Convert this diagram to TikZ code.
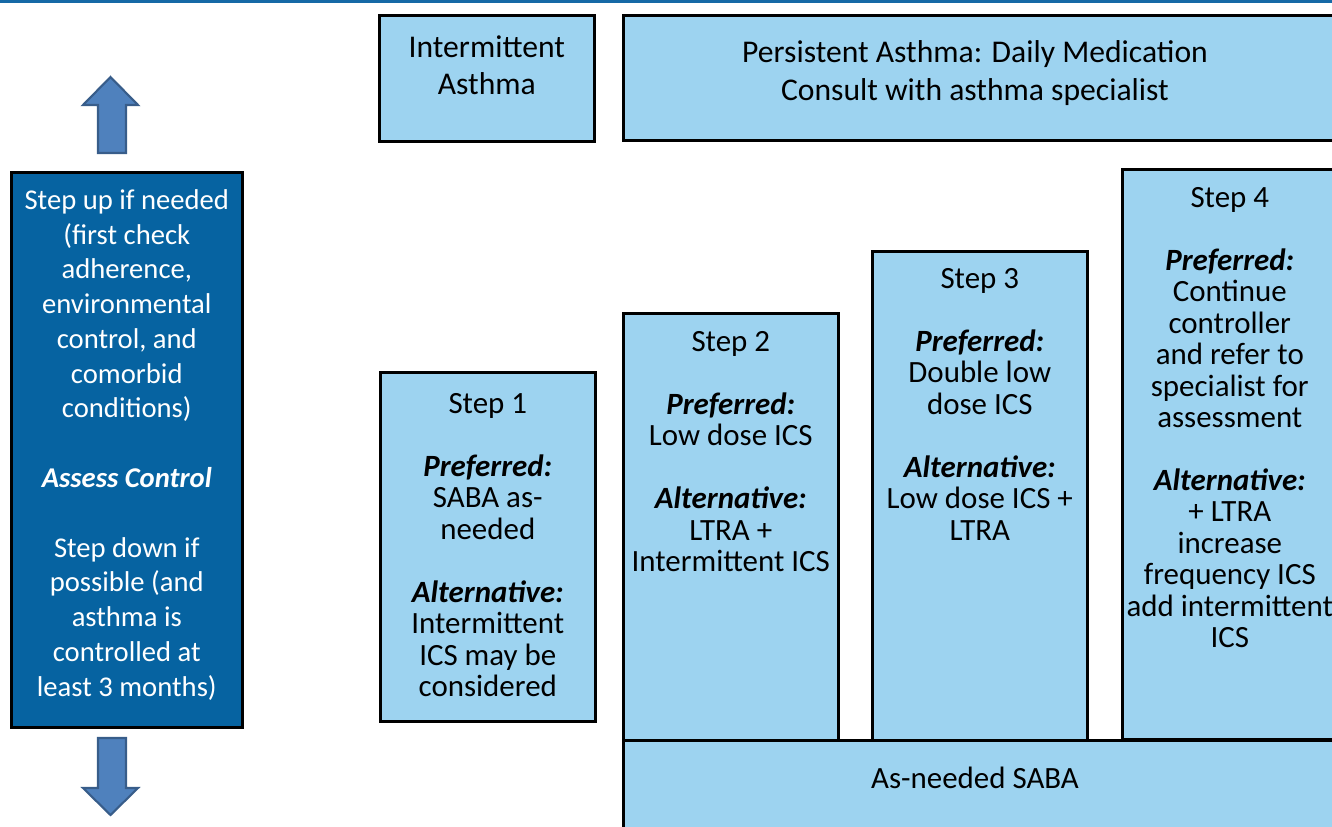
\documentclass[tikz,border=0pt]{standalone}
\usepackage{fontspec}
\setmainfont{Carlito}
\usetikzlibrary{positioning}

\definecolor{azulclaro}{RGB}{157,211,240}
\definecolor{azulescuro}{RGB}{6,99,161}
\definecolor{azulseta}{RGB}{79,129,189}
\definecolor{bordaseta}{RGB}{56,93,138}
\definecolor{azullinha}{RGB}{22,105,166}

\begin{document}
\begin{tikzpicture}[x=0.02cm, y=-0.02cm,
    caixa/.style={draw=black, line width=1.5pt, fill=azulclaro, anchor=north west,
                  inner sep=0pt, minimum width=4.3cm},
    texto/.style={anchor=north, align=center, inner sep=0pt,
                  font=\fontsize{17.6}{17.9}\selectfont},
    titulo/.style={anchor=north, align=center, inner sep=0pt,
                   font=\fontsize{18}{21.2}\selectfont},
    seta/.style={fill=azulseta, draw=bordaseta, line width=1.2pt}]

    \clip (0,0) rectangle (1332,827);

    % Linha superior
    \fill[azullinha] (0,0) rectangle (1332,3.5);

    % Caixas superiores
    \node[caixa, minimum height=2.52cm] (intermitente) at (378,14) {};
    \node[caixa, minimum width=14.5cm, minimum height=2.5cm] (persistente) at (622,14) {};
    \node[titulo, below=0.42cm of intermitente.north] (txtint) {Intermittent\\ Asthma};
    \node[titulo, font=\fontsize{18}{21.5}\selectfont] (txtpers) at (975,40)
        {Persistent Asthma: Daily Medication\\ Consult with asthma specialist};

    % Caixa da esquerda e setas
    \node[caixa, fill=azulescuro, minimum width=4.62cm, minimum height=11.1cm] (ajuste) at (10,171) {};
    \node[texto, text=white, font=\fontsize{16.3}{19.8}\selectfont, below=0.36cm of ajuste.north] (txtajuste)
        {Step up if needed\\ (first check\\ adherence,\\ environmental\\ control, and\\ comorbid\\ conditions)\\[\baselineskip]
         \textbf{\textit{Assess Control}}\\[\baselineskip]
         Step down if\\ possible (and\\ asthma is\\ controlled at\\ least 3 months)};
    \draw[seta] (98,153) -- (98,105) -- (83,105) -- (110.5,77) -- (138,105) -- (126,105) -- (126,153) -- cycle;
    \draw[seta] (98,738) -- (126,738) -- (126,788) -- (138,788) -- (110.5,815) -- (83,788) -- (98,788) -- cycle;

    % Degraus
    \foreach \x/\y/\h/\nome in {379/371/6.98/passo1, 622/312/8.56/passo2,
                                871/250/9.8/passo3, 1121/168/11.4/passo4}
        \node[caixa, minimum height=\h cm] (\nome) at (\x,\y) {};

    \node[texto, below=0.44cm of passo1.north] (txt1)
        {Step 1\\[\baselineskip]
         \textbf{\textit{Preferred:}}\\ SABA as-\\ needed\\[\baselineskip]
         \textbf{\textit{Alternative:}}\\ Intermittent\\ ICS may be\\ considered};
    \node[texto, below=0.38cm of passo2.north] (txt2)
        {Step 2\\[\baselineskip]
         \textbf{\textit{Preferred:}}\\ Low dose ICS\\[\baselineskip]
         \textbf{\textit{Alternative:}}\\ LTRA +\\ Intermittent ICS};
    \node[texto, below=0.36cm of passo3.north] (txt3)
        {Step 3\\[\baselineskip]
         \textbf{\textit{Preferred:}}\\ Double low\\ dose ICS\\[\baselineskip]
         \textbf{\textit{Alternative:}}\\ Low dose ICS +\\ LTRA};
    \node[texto, below=0.38cm of passo4.north] (txt4)
        {Step 4\\[\baselineskip]
         \textbf{\textit{Preferred:}}\\ Continue\\ controller\\ and refer to\\ specialist for\\ assessment\\[\baselineskip]
         \textbf{\textit{Alternative:}}\\ + LTRA\\ increase\\ frequency ICS\\ add intermittent\\ ICS};

    % Barra inferior
    \node[caixa, minimum width=14.5cm, minimum height=2.1cm] (saba) at (622,739) {};
    \node[texto] (txtsaba) at (975,767) {As-needed SABA};

\end{tikzpicture}
\end{document}
